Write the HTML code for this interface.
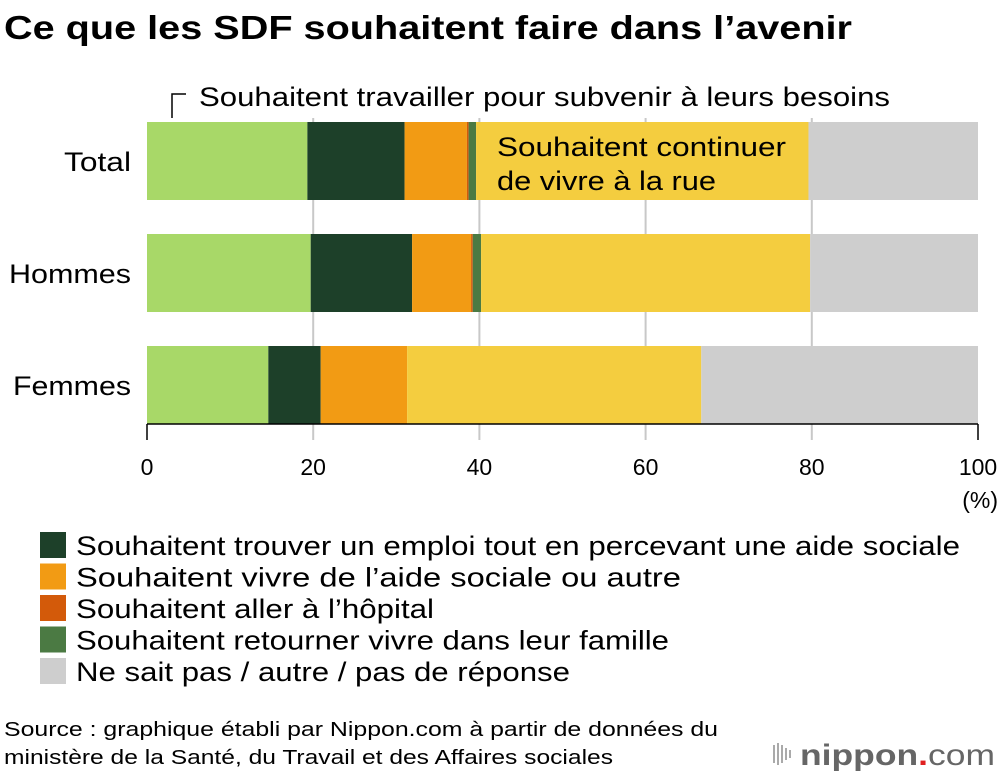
<!DOCTYPE html>
<html><head><meta charset="utf-8"><style>
body{margin:0;background:#fff;font-family:"Liberation Sans",Arial,sans-serif;}
svg text{font-family:"Liberation Sans",Arial,sans-serif;}
</style></head><body>
<svg id="c" width="1000" height="778" viewBox="0 0 1000 778">
<text x="4" y="39" font-size="33" font-weight="bold" fill="#000" textLength="848" lengthAdjust="spacingAndGlyphs">Ce que les SDF souhaitent faire dans l’avenir</text>
<g id="grid"></g><g id="bars"></g><g id="axis"></g>
<path d="M172 118 V94 H186" stroke="#000" stroke-width="1.5" fill="none"/>
<text x="199" y="106" font-size="27" textLength="691" lengthAdjust="spacingAndGlyphs">Souhaitent travailler pour subvenir à leurs besoins</text>
<text x="497" y="156" font-size="27" textLength="289" lengthAdjust="spacingAndGlyphs">Souhaitent continuer</text>
<text x="497" y="190" font-size="27" textLength="219" lengthAdjust="spacingAndGlyphs">de vivre à la rue</text>
<text x="998" y="508" font-size="23" text-anchor="end">(%)</text>
<g id="legend"></g>
<text x="4" y="736" font-size="20" textLength="714" lengthAdjust="spacingAndGlyphs">Source : graphique établi par Nippon.com à partir de données du</text>
<text x="4" y="764" font-size="20" textLength="609" lengthAdjust="spacingAndGlyphs">ministère de la Santé, du Travail et des Affaires sociales</text>
<g>
<g fill="#aaa"><rect x="773" y="745" width="2" height="18"/><rect x="777" y="743" width="2" height="22"/><rect x="781" y="745" width="2" height="18"/><rect x="785" y="748" width="2" height="12"/><rect x="789" y="750" width="2" height="8"/></g>
<text x="800" y="765" font-size="30" font-weight="bold" fill="#666" textLength="195" lengthAdjust="spacingAndGlyphs">nippon<tspan fill="#e02020">.</tspan><tspan font-weight="normal">com</tspan></text>
</g>
</svg>
<script>
const categories=["Total","Hommes","Femmes"];
const seriesNames=["Souhaitent travailler pour subvenir à leurs besoins","Souhaitent trouver un emploi tout en percevant une aide sociale","Souhaitent vivre de l’aide sociale ou autre","Souhaitent aller à l’hôpital","Souhaitent retourner vivre dans leur famille","Souhaitent continuer de vivre à la rue","Ne sait pas / autre / pas de réponse"];
const travailler=[19.3,19.7,14.6];
const emploiAide=[11.7,12.2,6.3];
const aideSociale=[7.5,7.1,10.4];
const hopital=[0.2,0.2,0];
const famille=[0.9,1.0,0];
const rue=[40.0,39.6,35.4];
const nsp=[20.4,20.2,33.3];
const ticks=[0,20,40,60,80,100];
const colors=["#a8d868","#1d4029","#f29b14","#d35a0a","#4b7a43","#f4cd3f","#cecece"];
const series=[travailler,emploiAide,aideSociale,hopital,famille,rue,nsp];
const NS="http://www.w3.org/2000/svg";
const x0=147,x1=978;
const xs=v=>x0+(x1-x0)*v/100;
const yBand=i=>122+i*112, bh=78;
const catW=[67,122,118];
const legW=[0,884,605,358,593,0,494];
function el(t,a,p){const e=document.createElementNS(NS,t);for(const k in a)e.setAttribute(k,a[k]);p.appendChild(e);return e;}
const grid=document.getElementById('grid'),bars=document.getElementById('bars'),axis=document.getElementById('axis'),legend=document.getElementById('legend');
ticks.forEach(t=>{
 if(t>0&&t<100){const g=el('line',{x1:xs(t),x2:xs(t),y1:118,y2:440,stroke:'#c8c8c8','stroke-width':2},grid);
 
 }
 else{const tk=el('line',{x1:xs(t),x2:xs(t),y1:424,y2:440,stroke:'#000','stroke-width':1.5},axis);
 
 }
 const tx=el('text',{x:xs(t),y:475,'font-size':23,'text-anchor':'middle'},axis);tx.textContent=t;
 
 
});
categories.forEach((c,i)=>{
 const y=yBand(i);let acc=0;
 series.forEach((s,j)=>{const v=s[i];if(v>0){
  const r=el('rect',{x:xs(acc),y:y,width:xs(acc+v)-xs(acc),height:bh,fill:colors[j]},bars);
  
  }
  acc+=v;});
 const l=el('text',{x:131-catW[i],y:y+bh/2+10,'font-size':27,textLength:catW[i],lengthAdjust:'spacingAndGlyphs'},axis);l.textContent=c;
 
 
});
const al=el('line',{x1:x0,x2:x1,y1:424,y2:424,stroke:'#000','stroke-width':1.5},axis);


[1,2,3,4,6].forEach((j,k)=>{
 const y=532+k*31.5;
 const r=el('rect',{x:40,y:y,width:26,height:26,fill:colors[j]},legend);
 
 
 const t=el('text',{x:76,y:y+23,'font-size':27,textLength:legW[j],lengthAdjust:'spacingAndGlyphs'},legend);t.textContent=seriesNames[j];
 
 
});
</script>
</body></html>
